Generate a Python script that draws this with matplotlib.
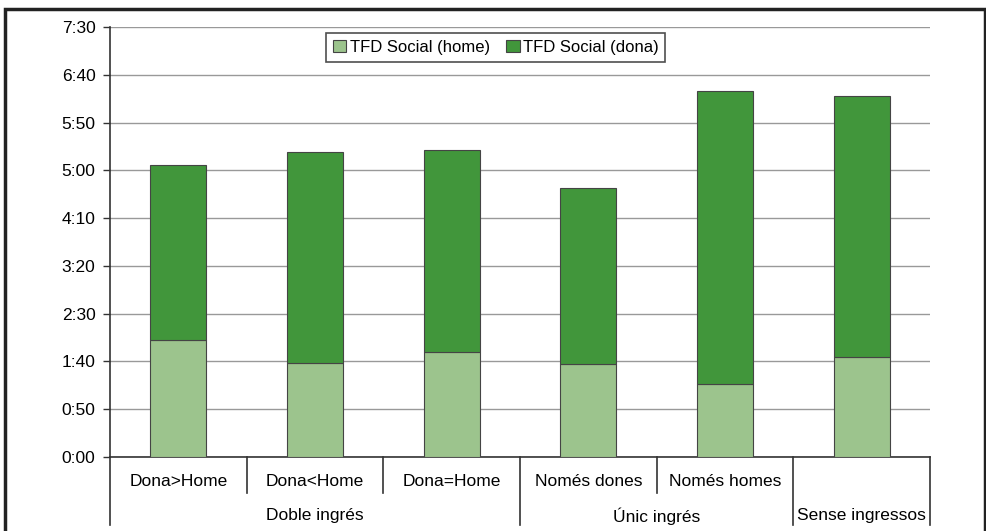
import numpy as np
import matplotlib.pyplot as plt
from matplotlib.patches import Rectangle

plt.rcParams['font.family'] = ['Liberation Sans', 'DejaVu Sans']

categories = ['Dona>Home', 'Dona<Home', 'Dona=Home', 'Només dones', 'Només homes', 'Sense ingressos']
groups = ['Doble ingrés', 'Únic ingrés', 'Sense ingressos']
group_sizes = [3, 2, 1]
# minutes
tfd_home = [122, 98, 110, 97, 76, 105]
tfd_total = [306, 319, 321, 282, 383, 378]
tfd_dona = [t - h for t, h in zip(tfd_total, tfd_home)]
yticks = [0, 50, 100, 150, 200, 250, 300, 350, 400, 450]
ytick_labels = ['%d:%02d' % (v // 60, v % 60) for v in yticks]

fig = plt.figure(figsize=(9.87, 5.31), dpi=100)
ax = fig.add_axes([110/987, 1-457/531, 820/987, 430/531])

x = np.arange(len(categories))
c_home = '#9cc48d'
c_dona = '#41963b'
ax.bar(x, tfd_home, width=0.41, color=c_home, edgecolor='#444444', linewidth=0.8,
       label='TFD Social (home)', zorder=3)
ax.bar(x, tfd_dona, width=0.41, bottom=tfd_home, color=c_dona, edgecolor='#444444',
       linewidth=0.8, label='TFD Social (dona)', zorder=3)

ax.set_xlim(-0.5, len(categories) - 0.5)
ax.set_ylim(0, 450)
ax.set_yticks(yticks)
ax.set_yticklabels(ytick_labels, fontsize=12.5)
ax.tick_params(axis='y', direction='out', length=5, width=1, color='#333333', pad=5.5)
ax.set_xticks([])
ax.grid(axis='y', color='#999999', linewidth=1, zorder=0)
for s in ['top', 'right']:
    ax.spines[s].set_visible(False)
ax.spines['left'].set_color('#333333')
ax.spines['bottom'].set_color('#333333')
ax.spines['left'].set_linewidth(1.2)
ax.spines['bottom'].set_linewidth(1.2)

# category labels and separators below the axis
tr = ax.get_xaxis_transform()
for i, c in enumerate(categories):
    if c != groups[-1]:
        ax.text(i, -0.058, c, transform=tr, ha='center', va='center', fontsize=12.5)
bounds = np.cumsum([0] + group_sizes) - 0.5
for i in range(len(categories) + 1):
    b = i - 0.5
    y_end = -0.158 if b in bounds else -0.083
    ax.plot([b, b], [0, y_end], transform=tr, color='#333333', linewidth=1.2, clip_on=False)
for g, lo, hi in zip(groups, bounds[:-1], bounds[1:]):
    ax.text((lo + hi) / 2, -0.137, g, transform=tr, ha='center', va='center', fontsize=12.5)

leg = ax.legend(loc='upper center', bbox_to_anchor=(0.4705, 0.986), ncol=2, fontsize=12,
                frameon=True, fancybox=False, edgecolor='#222222', handlelength=0.8,
                handleheight=0.8, handletextpad=0.2, columnspacing=1.0,
                borderpad=0.4, borderaxespad=0)
leg.get_frame().set_linewidth(1.2)

fig.patches.append(Rectangle((5/987, -0.1), 980/987, 1 - 9/531 + 0.1,
                             transform=fig.transFigure, fill=False,
                             edgecolor='#222222', linewidth=2.5))

fig.savefig('out.png', dpi=100)
